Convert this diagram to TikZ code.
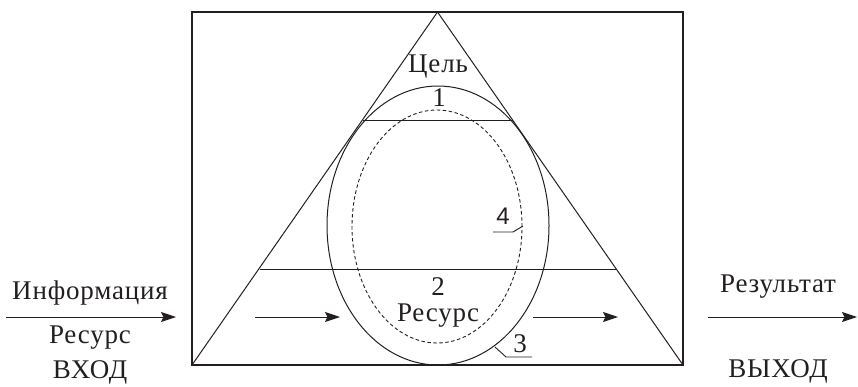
\documentclass[tikz,border=0pt]{standalone}
\usepackage{fontspec}
\setmainfont{Liberation Serif}[LetterSpace=3]
\newfontfamily\sansf{Liberation Sans}
\usetikzlibrary{arrows.meta}
\definecolor{ink}{RGB}{35,31,32}
\begin{document}
\begin{tikzpicture}[x=1pt,y=-1pt,
  thinline/.style={line width=1pt,ink},
  arr/.style={line width=1pt,ink,-{Stealth[length=15pt,width=10pt,inset=2.5pt]}},
  lbl/.style={inner sep=0pt,font=\fontsize{27}{31}\selectfont,text=ink},
  leader/.style={line width=0.9pt,ink}]
\useasboundingbox (0,0) rectangle (858,386);
% frame and triangle
\coordinate (tl) at (192,12);
\coordinate (br) at (683,365);
\coordinate (apex) at (437.5,12);
\coordinate (bl) at (192,365);
\coordinate (brr) at (683,365);
\draw[line width=1.5pt,ink] (tl) rectangle (br);
\draw[thinline] (bl) -- (apex) -- (brr);
% horizontal lines
\coordinate (h1l) at (362.5,120);
\coordinate (h1r) at (512.5,120);
\coordinate (h2l) at (259.5,269);
\coordinate (h2r) at (615.5,269);
\draw[thinline] (h1l) -- (h1r);
\draw[thinline] (h2l) -- (h2r);
% ellipses
\coordinate (ec) at (438,225.5);
\draw[thinline] (ec) ellipse [x radius=111pt, y radius=139.5pt];
\coordinate (dc) at (437,226.5);
\draw[line width=0.9pt,ink,dash pattern=on 3.5pt off 2.5pt] (dc) ellipse [x radius=85pt, y radius=116.5pt];
% labels inside
\node[lbl] (goal) at (438,67) {Цель};
\node[lbl] (n1) at (439,98) {1};
\node[lbl] (n2) at (438,287) {2};
\node[lbl] (res) at (438,316) {Ресурс};
\node[lbl,font=\sansf\fontsize{24}{28}\selectfont] (n4) at (503,216) {4};
\node[lbl] (n3) at (520,344) {3};
% leaders
\coordinate (l4a) at (493,232);
\coordinate (l4b) at (513,232);
\coordinate (l4c) at (523,226);
\draw[leader] (l4a) -- (l4b) -- (l4c);
\coordinate (l3a) at (495,347);
\coordinate (l3b) at (506,357);
\coordinate (l3c) at (532,357);
\draw[leader] (l3a) -- (l3b) -- (l3c);
% inner arrows
\coordinate (ia1) at (255,317);
\coordinate (ia2) at (340,317);
\coordinate (ib1) at (533,317);
\coordinate (ib2) at (618,317);
\draw[arr] (ia1) -- (ia2);
\draw[arr] (ib1) -- (ib2);
% outer input
\coordinate (in1) at (6,317);
\coordinate (in2) at (176,317);
\draw[arr] (in1) -- (in2);
\node[lbl] (info) at (90,293) {Информация};
\node[lbl] (resin) at (90,338) {Ресурс};
\node[lbl] (vhod) at (90,372) {ВХОД};
% outer output
\coordinate (out1) at (708,317);
\coordinate (out2) at (857,317);
\draw[arr] (out1) -- (out2);
\node[lbl] (rez) at (778,287) {Результат};
\node[lbl] (vyhod) at (778,371) {ВЫХОД};
\end{tikzpicture}
\end{document}
